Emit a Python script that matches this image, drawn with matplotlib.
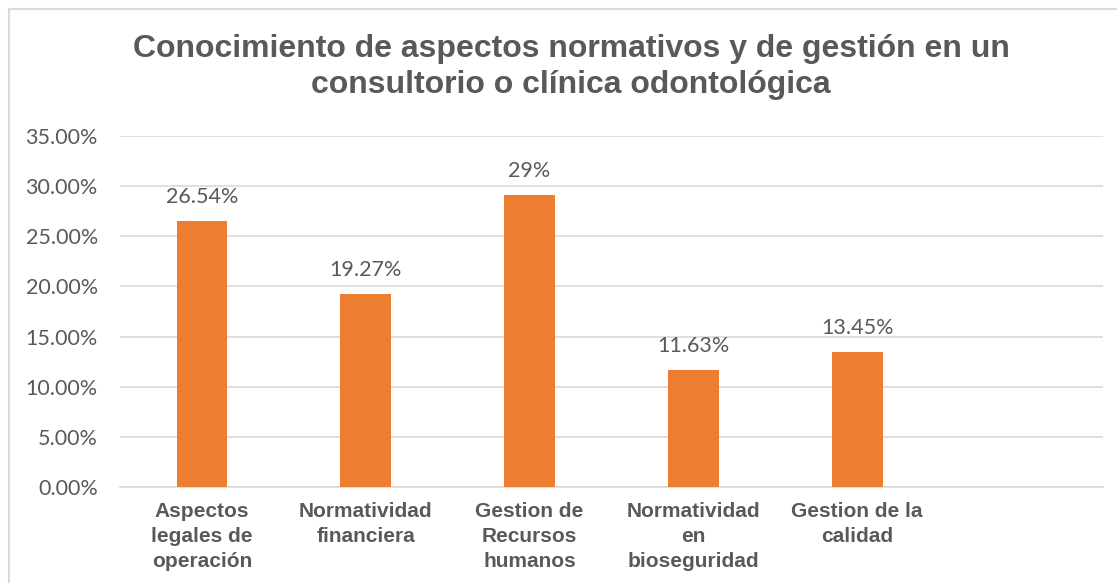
import matplotlib.pyplot as plt
from matplotlib.lines import Line2D
from matplotlib.ticker import FuncFormatter
import numpy as np

categories = [
    "Aspectos\nlegales de\noperación",
    "Normatividad\nfinanciera",
    "Gestion de\nRecursos\nhumanos",
    "Normatividad\nen\nbioseguridad",
    "Gestion de la\ncalidad",
    "",
]
values = [26.54, 19.27, 29.1, 11.63, 13.45]
value_labels = ["26.54%", "19.27%", "29%", "11.63%", "13.45%"]
yticks = [0, 5, 10, 15, 20, 25, 30, 35]

title = "Conocimiento de aspectos normativos y de gestión en un\nconsultorio o clínica odontológica"

W, H = 1117, 583
fig = plt.figure(figsize=(W / 100, H / 100), dpi=100)
ax = fig.add_axes([120 / W, 1 - 487 / H, (1103 - 120) / W, (487 - 136) / H])

grey = "#595959"
orange = "#ED7D31"

x = np.arange(len(categories))
ax.bar(x[:len(values)], values, width=0.31, color=orange, zorder=3)
for xi, v, lab in zip(x, values, value_labels):
    ax.text(xi, v + 2.4, lab, ha="center", va="center", fontsize=15.5,
            color=grey, family="Lato")

ax.set_xlim(-0.5, len(categories) - 0.5)
ax.set_ylim(0, 35)
ax.set_yticks(yticks)
ax.yaxis.set_major_formatter(FuncFormatter(lambda v, p: f"{v:.2f}%"))
ax.set_xticks(x)
ax.set_xticklabels(categories, fontsize=15, fontweight="bold", color=grey,
                   family="Liberation Sans", linespacing=1.38)
for lab in ax.get_yticklabels():
    lab.set_fontsize(15.5)
    lab.set_family("Lato")
    lab.set_color(grey)
ax.tick_params(axis="both", length=0)
ax.tick_params(axis="y", pad=16)
ax.tick_params(axis="x", pad=11)
ax.grid(axis="y", color="#d9d9d9", linewidth=1.2, zorder=0)
for s in ["top", "right", "left"]:
    ax.spines[s].set_visible(False)
ax.spines["bottom"].set_color("#d9d9d9")
ax.spines["bottom"].set_linewidth(1.2)

fig.text(571 / W, 1 - 67 / H, title, ha="center", va="center", fontsize=23,
         fontweight="bold", color=grey, family="Liberation Sans",
         linespacing=1.22)

# outer border (left and top)
fig.add_artist(Line2D([8.5 / W, 8.5 / W], [0, 1 - 9 / H], transform=fig.transFigure,
                      color="#d9d9d9", linewidth=1.5))
fig.add_artist(Line2D([8.5 / W, 1], [1 - 9 / H, 1 - 9 / H], transform=fig.transFigure,
                      color="#d9d9d9", linewidth=1.5))

fig.savefig("out.png", dpi=100)
